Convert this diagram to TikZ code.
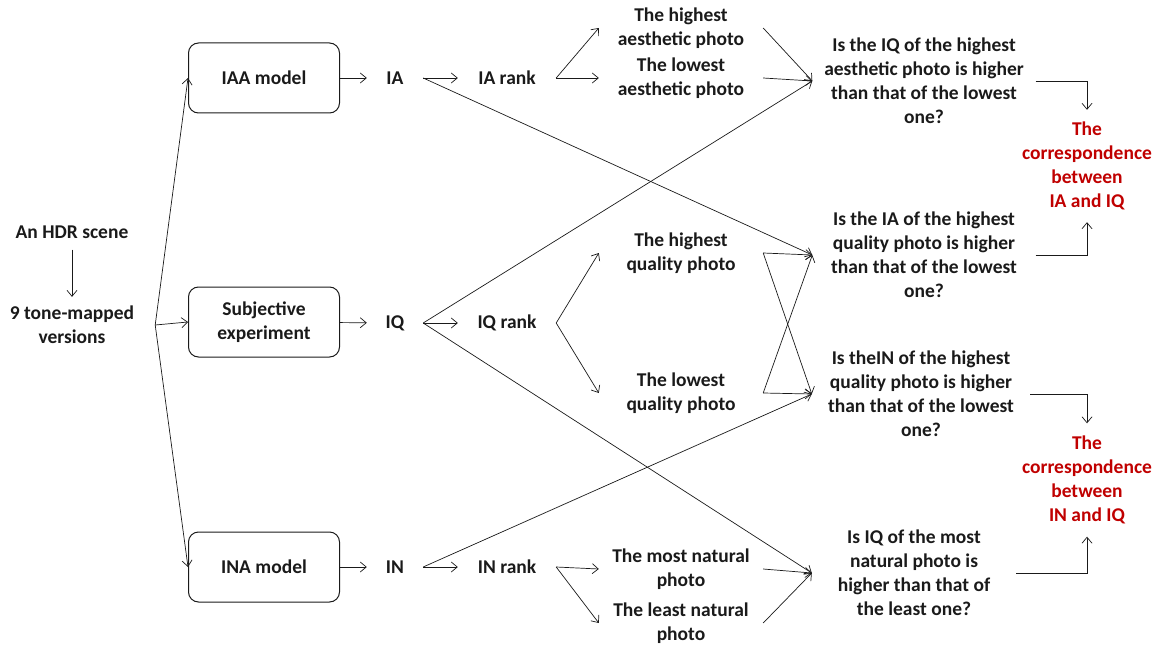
\documentclass[tikz,border=0pt]{standalone}
\usepackage{fontspec}
\setmainfont{Carlito}
\usetikzlibrary{arrows.meta, positioning}
\definecolor{inkblk}{HTML}{1A1A1A}
\definecolor{corrred}{HTML}{C00000}

\begin{document}
\begin{tikzpicture}[
  x=1pt, y=-1pt,
  >={Straight Barb[length=6pt, width=10pt]},
  every node/.style={font=\fontsize{19.5}{24}\selectfont\bfseries, text=inkblk},
  flow/.style={->, draw=inkblk, line width=0.7pt},
  model/.style={draw=inkblk, line width=1pt, rounded corners=10pt,
    minimum width=151pt, minimum height=70pt, align=center},
  score/.style={inner xsep=0pt, minimum width=56pt},
  rank/.style={inner xsep=0pt, minimum width=98pt},
  photo/.style={align=center, inner sep=0pt, minimum width=164pt},
  question/.style={align=center, inner sep=0pt},
  corr/.style={align=center, text=corrred, inner sep=0pt},
]

% Frame of the page
\useasboundingbox (0,0) rectangle (1162,650);

% --- Input ---
\node[inner ysep=11pt] (hdr) at (72,232) {An HDR scene};
\node[align=center, inner ysep=9pt, minimum width=166pt] (tone) at (72,325)
  {9 tone-mapped\\versions};

% --- Three assessors ---
\node[model] (iaa)  at (264,78)  {IAA model};
\node[model] (subj) at (264,322) {Subjective\\experiment};
\node[model] (ina)  at (264,567) {INA model};

% --- Scores and ranks ---
\node[score] (ia) at (395,78)  {IA};
\node[score] (iq) at (395,323) {IQ};
\node[score] (in) at (395,567) {IN};
\node[rank] (iarank) at (507,78)  {IA rank};
\node[rank] (iqrank) at (507,323) {IQ rank};
\node[rank] (inrank) at (507,567) {IN rank};

% --- Selected photos ---
\node[photo] (hiA)    at (681,28)  {The highest\\aesthetic photo};
\node[photo] (loA)    at (681,78)  {The lowest\\aesthetic photo};
\node[photo] (hiQ)    at (681,253) {The highest\\quality photo};
\node[photo] (loQ)    at (681,393) {The lowest\\quality photo};
\node[photo] (mostN)  at (681,569) {The most natural\\photo};
\node[photo] (leastN) at (681,623) {The least natural\\photo};

% --- Questions ---
\node[question, minimum width=223pt] (q1) at (924,81)
  {Is the IQ of the highest\\aesthetic photo is higher\\than that of the lowest\\one?};
\node[question, minimum width=223pt] (q2) at (924,255)
  {Is the IA of the highest\\quality photo is higher\\than that of the lowest\\one?};
\node[question, minimum width=218pt] (q3) at (921,394)
  {Is theIN of the highest\\quality photo is higher\\than that of the lowest\\one?};
\node[question, minimum width=204pt] (q4) at (914,573)
  {Is IQ of the most\\natural photo is\\higher than that of\\the least one?};

% --- Conclusions ---
\node[corr, minimum height=112pt] (corr1) at (1087,166)
  {The\\correspondence\\between\\IA and IQ};
\node[corr, minimum height=113pt] (corr2) at (1087,480)
  {The\\correspondence\\between\\IN and IQ};

% --- Connectors ---
\draw[flow] (hdr) -- (tone);
\draw[flow] (tone.east) -- (iaa.west);
\draw[flow] (tone.east) -- (subj.west);
\draw[flow] (tone.east) -- (ina.west);

\draw[flow] (iaa) -- (ia);
\draw[flow] (subj) -- (iq);
\draw[flow] (ina) -- (in);
\draw[flow] (ia) -- (iarank);
\draw[flow] (iq) -- (iqrank);
\draw[flow] (in) -- (inrank);

\draw[flow] (iarank.east) -- (hiA.west);
\draw[flow] (iarank.east) -- (loA.west);
\draw[flow] (iqrank.east) -- (hiQ.west);
\draw[flow] (iqrank.east) -- (loQ.west);
\draw[flow] (inrank.east) -- (mostN.west);
\draw[flow] (inrank.east) -- (leastN.west);

% crossing links between the rows
\draw[flow] (ia.east) -- (q2.west);
\draw[flow] (iq.east) -- (q1.west);
\draw[flow] (iq.east) -- (q4.west);
\draw[flow] (in.east) -- (q3.west);

\draw[flow] (hiA.east) -- (q1.west);
\draw[flow] (loA.east) -- (q1.west);
\draw[flow] (hiQ.east) -- (q2.west);
\draw[flow] (loQ.east) -- (q2.west);
\draw[flow] (hiQ.east) -- (q3.west);
\draw[flow] (loQ.east) -- (q3.west);
\draw[flow] (mostN.east) -- (q4.west);
\draw[flow] (leastN.east) -- (q4.west);

\draw[flow] (q1.east) -| (corr1.north);
\draw[flow] (q2.east) -| (corr1.south);
\draw[flow] (q3.east) -| (corr2.north);
\draw[flow] (q4.east) -| (corr2.south);

\end{tikzpicture}
\end{document}
